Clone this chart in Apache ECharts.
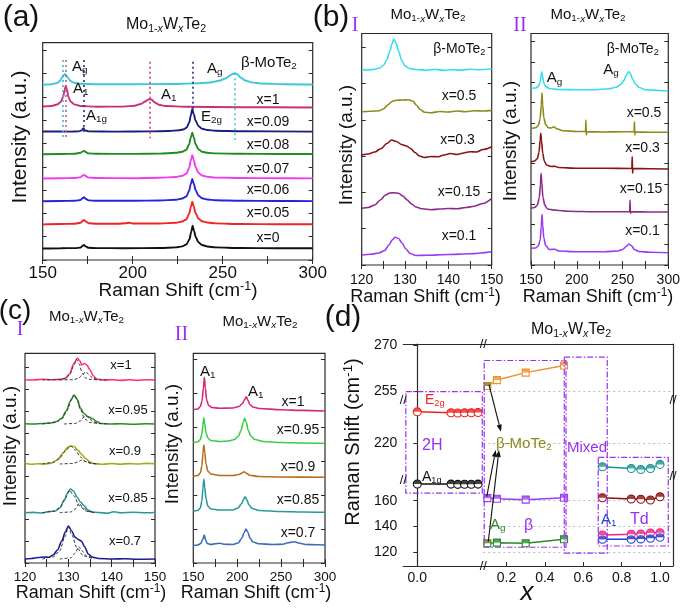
<!DOCTYPE html>
<html><head><meta charset="utf-8">
<script src="https://cdn.jsdelivr.net/npm/echarts@6/dist/echarts.min.js"></script>
<style>html,body{margin:0;padding:0;background:#fff}#c{width:685px;height:610px}</style>
</head><body><div id="c"></div><script>
// ================= DATA =================
// ---- Panel (a): Raman spectra, x = Raman shift (cm-1), y = intensity (a.u., stacked) ----
const a_beta = [[150,175.3],[155,175.8],[158,177],[159.5,179],[160.8,182.5],[161.7,185],[162.3,186],[163,185],[164,182],[165.5,179],[167.5,177.2],[171,176.3],[180,175.8],[200,175.7],[220,176],[235,176.6],[243,177.5],[248,179.2],[251.5,181.5],[254,184.5],[255.8,186.3],[256.8,186.7],[258,185.8],[260,182.5],[262.5,179.5],[266,177.6],[272,176.5],[285,175.8],[300,175.5]];
const a_x1 = [[150,153.5],[155,154],[158,155.5],[160,158],[161.3,163],[162.2,170],[162.8,174.2],[163.4,171],[164.3,163],[165.5,158.5],[167.5,155.6],[171,154],[180,153.3],[195,153.4],[201,154.3],[204.5,156],[207,158.5],[208.6,160.4],[209.6,161],[210.6,160.2],[212.3,157.5],[214.5,155.3],[218,154],[230,153.2],[260,152.8],[300,152.5]];
const a_x009 = [[150,128.5],[165,128.4],[170,128.6],[171.5,129.4],[172.6,131.7],[173.6,129.5],[175.5,128.6],[190,128.4],[210,128.6],[220,129],[226,129.8],[228.5,130.7],[230,132.5],[231.4,137.5],[232.3,144.5],[233.1,151],[233.9,146],[234.9,139.5],[236.5,134],[238.5,131.3],[241.5,130],[246,129.2],[260,128.7],[300,128.4]];
const a_x008 = [[150,105.8],[160,106],[168,106.3],[171,107.2],[172.3,108.6],[173,109],[173.8,108],[175.5,106.6],[180,106.2],[200,106.1],[215,106.4],[224,107.2],[227.5,108.3],[229.8,110.3],[231.3,115.5],[232.3,122.5],[233.1,127.3],[233.9,122.8],[234.9,116],[236.5,110.8],[238.5,108.3],[241.5,107.2],[246,106.6],[260,106.2],[280,106],[300,106]];
const a_x007 = [[150,81.5],[160,81.7],[168,82],[171,82.8],[172.3,84.5],[173,85],[173.8,84],[175.5,82.4],[180,82],[200,81.8],[215,82.2],[224,83],[227.5,84.2],[229.8,86.3],[231.3,92],[232.3,99.5],[233.1,104.7],[233.9,100],[234.9,93],[236.5,87.3],[238.5,84.5],[241.5,83.2],[246,82.4],[260,82],[280,81.8],[300,81.6]];
const a_x006 = [[150,58.8],[160,59],[168,59.2],[171,60],[172.3,62],[173,62.7],[173.8,61.3],[175.5,59.6],[180,59.2],[200,59.2],[215,59.5],[224,60.3],[227.5,61.5],[229.8,63.5],[231.3,69],[232.3,76],[233.1,81],[233.9,76.5],[234.9,70],[236.5,64.5],[238.5,61.8],[241.5,60.5],[246,59.7],[260,59.2],[280,59],[300,58.9]];
const a_x005 = [[150,35.6],[160,36],[168,36.3],[171,37.2],[172.3,39.2],[173,40],[173.8,38.6],[175.5,36.8],[180,36.2],[192,36.2],[196,36.8],[198,37.2],[200,36.5],[215,36.5],[224,37.3],[227.5,38.5],[229.8,40.5],[231.3,46],[232.3,53],[233.1,58.3],[233.9,53.5],[234.9,47],[236.5,41.5],[238.5,38.8],[241.5,37.5],[246,36.6],[260,36],[280,35.8],[300,35.7]];
const a_x0 = [[150,11.5],[160,11.8],[168,11.9],[171,12.4],[172.3,14.2],[173,15],[173.8,13.6],[175.5,12.2],[180,11.9],[195,11.8],[215,12],[224,12.6],[227.5,13.6],[229.8,15.5],[231.5,20.5],[232.5,28],[233.3,34.3],[234.1,29],[235,23],[236.5,17.8],[238.5,15],[241.5,13.5],[246,12.6],[260,12],[280,11.8],[300,11.7]];
const aLabels = ['x=1','x=0.09','x=0.08','x=0.07','x=0.06','x=0.05','x=0'];
// dotted mode-position guides in (a): x, top, bottom (a.u.)
const aRefX = [161.4, 163.0, 172.6, 209.6, 233.1, 256.8];
const aRefTop = [200, 200, 200, 198.3, 198.3, 186.7];
const aRefBot = [123, 123, 128, 121.7, 150, 120];

// ---- Panel (b) I: 120-150 cm-1 ----
const bI_beta = [[120,195.5],[121.5,195],[123,195.8],[124.2,197],[125,199.5],[125.8,205],[126.5,214],[127,221],[127.4,226],[127.9,222],[128.5,214],[129.2,205],[130,199],[131,196.5],[132.5,195.5],[135,194.8],[137,195.6],[139,194.6],[141,195.3],[143,194.9],[145,195.8],[147,195.2],[150,196]];
const bI_x05 = [[120,153.3],[122,153.8],[124,154.2],[125,156],[126,160],[127,163.5],[128,164.8],[129.5,165],[130.8,165.2],[131.8,164],[132.6,160],[133.5,155.5],[134.5,152.8],[136,152.3],[138,153.5],[140,153],[142,154],[144,153.3],[146,154.2],[148,154],[150,154.6]];
const bI_x03 = [[120,110],[121.5,111],[123,113],[124.5,116.5],[125.8,121.5],[126.9,125],[128,123.5],[129.2,120.5],[130.3,119],[131.3,116.5],[132.3,112.5],[133.3,109],[134.5,107.5],[136,108.5],[137.5,108.2],[139,110],[140.5,111.5],[142,110.5],[143.5,112],[145,113.3],[146.5,113],[148,115.5],[150,118.3]];
const bI_x015 = [[120,56.7],[121.5,57.5],[123,60],[124.3,65],[125.5,70],[126.5,72],[127.5,72.3],[128.5,71.8],[129.5,69],[130.5,65],[131.5,61],[132.5,58],[134,56.2],[136,55.3],[138,56],[140,56.5],[142,56.2],[144,57.5],[146,58.8],[148,61.5],[150,66.7]];
const bI_x01 = [[120,10],[122,10.8],[124,12],[125.3,14.5],[126.3,20],[127,25],[127.7,27.7],[128.5,26.5],[129.3,22],[130.2,16],[131.2,11.5],[132.5,9.5],[135,9.8],[140,10.5],[145,11.3],[150,13.3]];
// ---- Panel (b) II: 150-300 cm-1 ----
const bII_beta = [[150,176.7],[155,177],[158,178.5],[160,183],[161,189],[161.7,193.3],[162.5,189],[164,182],[166,178.5],[170,176.5],[180,175.5],[200,175.2],[220,175.3],[235,176.2],[243,177.8],[248,180.5],[251.5,184.5],[254,189.5],[256,192.8],[257,193.3],[258.5,191.5],[261,186],[264,181],[268,177.5],[275,175.3],[290,174.5],[300,174]];
const bII_x05 = [[150,136.5],[155,137.2],[158,139.5],[160,146],[161.2,160],[162,172.3],[162.8,160],[164,147],[166,140.5],[169,137.3],[172,137],[175,138.3],[178,136.3],[185,134.2],[200,133.5],[209.6,133.5],[210,145],[210.4,130],[210.8,133.3],[230,133],[250,133.2],[262.6,133.3],[263,143.3],[263.4,130],[263.8,133],[280,132.8],[300,132.7]];
const bII_x03 = [[150,103],[154,104],[157,106.5],[158.8,113],[160,125],[160.7,131.7],[161.5,124],[162.8,112],[164.5,104],[167,100],[172,98.5],[176,98.8],[180,97.5],[200,96.8],[230,96.7],[260.2,96.5],[260.6,108.3],[261,91.7],[261.4,96.5],[280,96.2],[300,96]];
const bII_x015 = [[150,56.7],[154,57.5],[157,60],[159,67],[160.3,80],[161,91.7],[161.8,82],[163,68],[165,60],[168,56],[175,55],[178,54.8],[190,53.8],[220,53.3],[257.8,53.3],[258.2,65],[258.6,51.7],[259,53.3],[280,53],[300,53]];
const bII_x01 = [[150,16.7],[155,17],[158,19],[160,25],[161.2,38],[162,50.7],[162.8,40],[164,27],[166,19.5],[170,15.5],[176,15.8],[180,14],[200,13.3],[230,13.3],[245,14],[250,15.5],[254,18.5],[257,21],[259.5,19.5],[263,15.5],[268,13.5],[280,12.8],[300,12.3]];
const bLabels = ['x=0.5','x=0.3','x=0.15','x=0.1'];

// ---- Panel (c) I: 120-150 cm-1 with two-peak fits ----
const cI_x1 = [[120,183.3],[122,183],[124,183.8],[126,183.2],[128,183.6],[129.2,184.5],[130.3,189],[131.2,199],[132.1,204.7],[132.7,202],[133.1,198],[133.7,199.5],[134.3,198],[135,193],[135.8,187],[136.5,184],[138,183],[140,183.3],[142,182.6],[144,183.2],[146,182.8],[148,183.3],[150,183]];
const cI_x1_f1 = [[124,183],[128,183.5],[129.5,185],[130.5,190],[131.3,198],[131.9,203.5],[132.5,199],[133.2,190],[134,185],[135,183.6],[137,183]];
const cI_x1_f2 = [[128,183],[131,183.3],[132.3,184.5],[133.2,188],[134,191.3],[134.8,188],[135.7,184.5],[137,183.3],[139,183]];
const cI_x095 = [[120,139.3],[122,139],[124,139.5],[126,140],[127.3,141.5],[128.5,145],[129.5,152],[130.5,162],[131.3,168],[132,164],[132.8,155],[133.6,149.5],[134.5,146.5],[135.5,144.5],[136.5,141.5],[137.5,139.5],[140,139],[142,139.3],[145,138.8],[148,139.2],[150,139]];
const cI_x095_f1 = [[124,139],[127,140.5],[128.5,144],[129.8,153],[130.7,164],[131.3,168],[132,164],[132.8,153],[133.8,144],[135,140.5],[137,139.2]];
const cI_x095_f2 = [[129,139],[131.5,139.5],[132.8,142],[133.5,145.5],[134.1,147],[134.8,145],[135.6,141.5],[137,139.5],[139,139]];
const cI_x09 = [[120,99.5],[121.5,98.8],[123,99.3],[124.5,99],[126,99.8],[127.5,103],[128.8,110],[129.8,115.5],[130.5,117],[131.3,116.5],[132.2,113],[133,109],[134,104.5],[135,101],[136,99.3],[138,98.7],[140,99.5],[142,98.8],[144,99.4],[146,99],[148,99.6],[150,99.2]];
const cI_x09_f1 = [[124,99],[126.5,100.5],[128,105],[129.3,112],[130.5,117],[131.6,113],[132.8,106],[134,101.5],[135.5,99.5],[137,99]];
const cI_x09_f2 = [[128,99],[131,99.5],[132.2,101],[133.1,103],[134,101.3],[135.2,99.6],[137,99]];
const cI_x085 = [[120,50.3],[122,50.6],[124,50],[125.5,51.5],[127,52],[128,55],[129,62],[129.8,70],[130.5,74],[131.2,72],[132,66],[132.8,61],[133.6,57.5],[134.5,53],[135.5,51],[137,50.5],[139,49.8],[140.5,51.3],[142,50.3],[145,50.8],[148,50.2],[150,50.5]];
const cI_x085_f1 = [[124,50.3],[126.5,51.5],[128,55],[129.3,65],[130.3,72.5],[131.3,67],[132.5,57.5],[134,52],[136,50.4]];
const cI_x085_f2 = [[128,50.3],[130.5,51],[131.6,54],[132.5,59.7],[133.4,55],[134.5,51.5],[136,50.3]];
const cI_x07 = [[120,4],[121.5,4.5],[123,5.5],[124.5,6],[125.5,5.8],[126.5,8],[127.5,13],[128.5,22],[129.3,31],[130,37],[130.8,32],[131.5,26],[132.3,23.5],[133,22],[133.8,16],[134.6,9],[135.5,6],[137,4.5],[140,4],[143,4.3],[146,3.8],[150,4]];
const cI_x07_f1 = [[124,4],[126.5,6],[128,12],[129.2,26],[130,36],[130.8,28],[132,15],[133.5,7],[135.5,4.5]];
const cI_x07_f2 = [[128,4],[130.5,5],[131.6,10],[132.4,16.3],[133.2,12],[134.2,7],[136,4.2]];
// ---- Panel (c) II: 150-300 cm-1 ----
const cII_x1 = [[150,153.5],[155,154],[158,156.5],[160,162],[161.5,175],[162.6,185.7],[163.7,175],[165.2,163],[167.5,157.5],[171,155.5],[180,154.7],[195,155],[202,156.5],[206,159.5],[208.5,163.5],[210.4,166.3],[212,163],[214.5,158.5],[218,156],[225,154.5],[250,153.2],[275,152.6],[300,152]];
const cII_x095 = [[150,120.5],[155,121],[158,123.5],[159.8,129],[161,138],[162,145.3],[163,139],[164.5,130],[166.5,125],[170,122.5],[180,121.5],[190,122],[197,123.5],[201.5,127],[204.5,133],[206.8,140],[208.5,144.7],[210.2,141],[212.5,133],[215.5,127],[220,123.5],[230,121.5],[250,120.5],[275,120],[300,119.7]];
const cII_x09 = [[150,86.8],[155,87.5],[158,90],[159.8,97],[161,110],[162,118],[163,111],[164.5,99],[166.5,92],[170,89],[180,87.5],[195,87.5],[202,88.5],[206,90.3],[208,91.3],[210.5,89.8],[214,87.8],[225,86.5],[250,86],[300,85.7]];
const cII_x085 = [[150,52],[155,52.5],[158,55],[159.8,62],[161,75],[162,83.7],[163,76],[164.5,64],[166.5,57],[170,54],[180,53],[195,53],[201,55],[205,59.5],[207.5,64],[209,66.3],[210.8,63.5],[213.5,58],[217,54.5],[225,52.5],[250,51.5],[275,51],[300,50.7]];
const cII_x07 = [[150,17.5],[155,18],[158.5,19.5],[160.5,23],[162.5,28],[164,23],[166,19.5],[170,18.5],[175,19.2],[180,19.7],[185,18.8],[195,18.5],[201,20],[205,24.5],[208,30.5],[210,34],[212,31],[214.5,25],[218,21],[225,19.2],[240,18.5],[252,18.8],[258,20.3],[264.5,21.3],[270,20],[278,18.5],[290,18.2],[300,18]];
const cLabels = ['x=1','x=0.95','x=0.9','x=0.85','x=0.7'];

// ---- Panel (d): peak positions vs x ----
const d_x2H = [0, 0.05, 0.06, 0.07, 0.08, 0.09];
const d_E2g = [232.9, 232.5, 232.4, 232.5, 232.5, 232.6];
const d_A1g = [173.0, 172.9, 172.7, 172.8, 172.8, 172.9];
const d_xBeta = [0.1, 0.15, 0.3, 0.5];
const d_betaHigh = [256.8, 258.7, 261.1, 263.4];
const d_betaMid = [162.0, 161.5, 160.8, 162.3];
const d_betaLow = [126.8, 127.3, 126.8, 129.9];
const d_xTd = [0.7, 0.85, 0.9, 0.95, 1.0];
const d_TdHigh = [210.0, 209.3, 208.9, 209.3, 211.0];
const d_TdMid = [162.3, 161.3, 161.1, 160.5, 163.1];
const d_TdLowA = [133.3, 133.8, 134.0, 134.8, 135.0];
const d_TdLowB = [129.9, 129.9, 130.2, 130.7, 131.5];
const dYTicksBottom = [120, 140, 160], dYTicksMid = [220], dYTicksTop = [255, 270];
const dXTicksLeft = [0], dXTicksRight = [0.2, 0.4, 0.6, 0.8, 1.0];

// ================= CHART =================
const FONT = '"Liberation Sans", Arial, Helvetica, sans-serif';
const SERIF = '"Liberation Serif", "Times New Roman", serif';
const PURPLE = '#9a30f0';
const chart = echarts.init(document.getElementById('c'), null, {renderer: 'canvas', width: 685, height: 610});
const grids = [], xAxis = [], yAxis = [], series = [];
const tickStyle = {show: true, inside: true, length: 4, lineStyle: {color: '#2a2a2a', width: 1}};

function specPanel(left, top, w, h, xmin, xmax, xint, every, ymax, yint, fs, margin) {
  const gi = grids.length;
  grids.push({left, top, width: w, height: h, show: true, borderColor: '#2a2a2a', borderWidth: 1.2, backgroundColor: 'transparent'});
  const xi = xAxis.length;
  xAxis.push({gridIndex: gi, type: 'value', min: xmin, max: xmax, interval: xint, position: 'bottom',
    axisLine: {show: false}, axisTick: tickStyle, splitLine: {show: false},
    axisLabel: {fontFamily: FONT, fontSize: fs, color: '#111', margin,
      formatter: v => (Math.abs(v % every) < 1e-6 ? String(v) : '')}});
  xAxis.push({gridIndex: gi, type: 'value', min: xmin, max: xmax, interval: xint, position: 'top',
    axisLine: {show: false}, axisTick: tickStyle, axisLabel: {show: false}, splitLine: {show: false}});
  const yi = yAxis.length;
  yAxis.push({gridIndex: gi, type: 'value', min: 0, max: ymax, interval: yint, position: 'left',
    axisLine: {show: false}, axisTick: tickStyle, axisLabel: {show: false}, splitLine: {show: false}});
  yAxis.push({gridIndex: gi, type: 'value', min: 0, max: ymax, interval: yint, position: 'right',
    axisLine: {show: false}, axisTick: tickStyle, axisLabel: {show: false}, splitLine: {show: false}});
  return {gi, xi, yi};
}
function addSpec(p, data, color, w) {
  const s = {type: 'line', xAxisIndex: p.xi, yAxisIndex: p.yi, data, symbol: 'none', smooth: 0.3,
    smoothMonotone: 'x', lineStyle: {color, width: w || 1.6}, itemStyle: {color}, silent: true, z: 3};
  series.push(s); return s;
}
function addFit(p, data) {
  series.push({type: 'line', xAxisIndex: p.xi, yAxisIndex: p.yi, data, symbol: 'none', smooth: 0.3,
    smoothMonotone: 'x', lineStyle: {color: '#333', width: 1, type: [3, 2]}, silent: true, z: 4});
}

// Panel (a)
const PA = specPanel(42.7, 42.7, 270, 217.3, 150, 300, 25, 50, 217.3, 23.3, 17, 5);
addSpec(PA, a_beta, '#3cc8d8', 1.9);
addSpec(PA, a_x1, '#c8307a', 1.9);
addSpec(PA, a_x009, '#1c1c7c', 1.9);
addSpec(PA, a_x008, '#1e8c1e', 1.9);
addSpec(PA, a_x007, '#f03cf0', 1.9);
addSpec(PA, a_x006, '#2424dc', 1.9);
addSpec(PA, a_x005, '#f02424', 1.9);
const aBlack = addSpec(PA, a_x0, '#111', 1.9);
const aRefColors = ['#5fa8cc', '#a8679e', '#2a2a8a', '#d03a8a', '#2a2a8a', '#40c8d8'];
aBlack.markLine = {silent: true, symbol: ['none', 'none'], label: {show: false}, animation: false,
  data: aRefX.map((x, i) => [{coord: [x, aRefTop[i]], lineStyle: {color: aRefColors[i], type: [2, 3], width: 1.6}},
                              {coord: [x, aRefBot[i]]}])};

// Panel (b)
const PB1 = specPanel(361.7, 33.5, 130, 231.5, 120, 150, 5, 10, 231.5, 36.3, 14, 8);
const PB2 = specPanel(531, 33.5, 137.3, 231.5, 150, 300, 25, 50, 231.5, 20.3, 14, 8);
const bColors = ['#38dcec', '#8c8c1c', '#8a1414', '#8c2a8c', '#9a3cf0'];
[bI_beta, bI_x05, bI_x03, bI_x015, bI_x01].forEach((d, i) => addSpec(PB1, d, bColors[i], 1.6));
[bII_beta, bII_x05, bII_x03, bII_x015, bII_x01].forEach((d, i) => addSpec(PB2, d, bColors[i], 1.6));

// Panel (c)
const PC1 = specPanel(25, 353.3, 130, 209.7, 120, 150, 5, 10, 209.7, 21.7, 13.5, 7);
const PC2 = specPanel(193.3, 353.3, 131.7, 209.7, 150, 300, 25, 50, 209.7, 34, 13.5, 7);
const c1Colors = ['#ff2a84', '#2a8c2a', '#a8a820', '#2a9696', '#1c1c96'];
[cI_x1, cI_x095, cI_x09, cI_x085, cI_x07].forEach((d, i) => addSpec(PC1, d, c1Colors[i], 1.6));
[cI_x1_f1, cI_x1_f2, cI_x095_f1, cI_x095_f2, cI_x09_f1, cI_x09_f2, cI_x085_f1, cI_x085_f2, cI_x07_f1, cI_x07_f2].forEach(d => addFit(PC1, d));
const c2Colors = ['#d42a7c', '#3ccc4a', '#b86e1a', '#2a9a9a', '#3c6cb4'];
[cII_x1, cII_x095, cII_x09, cII_x085, cII_x07].forEach((d, i) => addSpec(PC2, d, c2Colors[i], 1.6));

// Panel (d): broken axes -> 6 sub-grids
const DL = 403.3, DM = 483.3, DR = 673, DT = 344, DB1 = 400, DB2 = 480, DBOT = 566;
const dYR = {bot: [109.1, 176.1], mid: [204.5, 237.8], top: [252.3, 270.3]};
const dXR = {left: [-0.0207, 0.0978], right: [0.0791, 1.0677]};
const D = {};
function dGrid(key, left, top, w, h, xr, yr, xpos, xticks, yside, yticks) {
  const gi = grids.length;
  grids.push({left, top, width: w, height: h, show: false});
  const xi = xAxis.length;
  const xa = {gridIndex: gi, type: 'value', min: xr[0], max: xr[1], position: xpos || 'bottom', splitLine: {show: false},
    axisLine: {show: !!xpos, lineStyle: {color: '#2a2a2a', width: 1.2}},
    axisTick: {show: !!xticks, inside: true, length: 4, customValues: xticks || [], lineStyle: {color: '#2a2a2a'}},
    axisLabel: {show: !!xticks, customValues: xticks || [], fontFamily: FONT, fontSize: 14, color: '#111', margin: 5,
      formatter: v => Number(v).toFixed(1)}};
  if (!xpos) xa.show = false;
  xAxis.push(xa);
  const yi = yAxis.length;
  yAxis.push({gridIndex: gi, type: 'value', min: yr[0], max: yr[1], position: yside, splitLine: {show: false},
    axisLine: {show: true, lineStyle: {color: '#2a2a2a', width: 1.2}},
    axisTick: {show: !!yticks, inside: false, length: 4, customValues: yticks || [], lineStyle: {color: '#2a2a2a'}},
    axisLabel: {show: !!yticks, customValues: yticks || [], fontFamily: FONT, fontSize: 14, color: '#111', margin: 6}});
  D[key] = {gi, xi, yi};
}
dGrid('BL', DL, DB2, DM - DL, DBOT - DB2, dXR.left, dYR.bot, 'bottom', dXTicksLeft, 'left', dYTicksBottom);
dGrid('ML', DL, DB1, DM - DL, DB2 - DB1, dXR.left, dYR.mid, null, null, 'left', dYTicksMid);
dGrid('TL', DL, DT, DM - DL, DB1 - DT, dXR.left, dYR.top, 'top', null, 'left', dYTicksTop);
dGrid('BR', DM, DB2, DR - DM, DBOT - DB2, dXR.right, dYR.bot, 'bottom', dXTicksRight, 'right', null);
dGrid('MR', DM, DB1, DR - DM, DB2 - DB1, dXR.right, dYR.mid, null, null, 'right', null);
dGrid('TR', DM, DT, DR - DM, DB1 - DT, dXR.right, dYR.top, 'top', null, 'right', null);

const HALF_DISC = 'path://M0,10 A10,10 0 0 1 20,10 Z';
function dLine(key, xs, ys, color, shape, firstColor, gridLines) {
  const p = D[key];
  const pts = xs.map((x, i) => [x, ys[i]]);
  const isRect = shape === 'rect';
  const sz = isRect ? 7 : 8;
  const s = {type: 'line', xAxisIndex: p.xi, yAxisIndex: p.yi, data: pts, symbol: isRect ? 'rect' : 'circle',
    symbolSize: sz, showAllSymbol: true, lineStyle: {color, width: 1.5},
    itemStyle: {color: '#fff', borderColor: color, borderWidth: 1.1}, silent: true, z: 5};
  if (gridLines) s.markLine = {silent: true, symbol: ['none', 'none'], label: {show: false},
    lineStyle: {type: [2, 3], color: '#bdbdbd', width: 1}, data: gridLines.map(v => ({yAxis: v})), z: 1};
  series.push(s);
  series.push({type: 'scatter', xAxisIndex: p.xi, yAxisIndex: p.yi,
    data: pts.map((pt, i) => (i === 0 && firstColor) ? {value: pt, itemStyle: {color: firstColor}} : pt),
    symbol: isRect ? 'rect' : HALF_DISC, symbolSize: [sz, sz / 2], symbolOffset: [0, -sz / 4],
    itemStyle: {color}, silent: true, z: 6});
}
dLine('ML', d_x2H, d_E2g, '#ee2222', 'circle');
dLine('BL', d_x2H, d_A1g, '#111111', 'circle');
dLine('TR', d_xBeta, d_betaHigh, '#f0922c', 'rect', '#7a7a1a', [255]);
dLine('BR', d_xBeta, d_betaMid, '#9a3cf0', 'rect', null, [120, 140, 160]);
dLine('BR', d_xBeta, d_betaLow, '#2a8a2a', 'rect', '#7a7a1a');
dLine('MR', d_xTd, d_TdHigh, '#1a9494', 'circle', null, [220]);
dLine('BR', d_xTd, d_TdMid, '#8b1010', 'circle');
dLine('BR', d_xTd, d_TdLowB, '#2040d0', 'circle');
dLine('BR', d_xTd, d_TdLowA, '#ee2288', 'circle');

chart.setOption({animation: false, backgroundColor: '#fff', grid: grids, xAxis, yAxis, series});

// ================= TEXT & DECORATIONS =================
function rich(fs, color) {
  const sub = +(fs * 0.66).toFixed(1), off = +(fs * 0.5).toFixed(1);
  return {
    n: {fontSize: fs, fontFamily: FONT, fill: color},
    s: {fontSize: sub, fontFamily: FONT, fill: color, padding: [off, 0, 0, 0]},
    si: {fontSize: sub, fontFamily: FONT, fill: color, fontStyle: 'italic', padding: [off, 0, 0, 0]},
    p: {fontSize: sub, fontFamily: FONT, fill: color, padding: [0, 0, off, 0]}
  };
}
function T(x, y, text, fs, o) {
  o = o || {};
  const color = o.color || '#111';
  return {type: 'text', x, y, rotation: o.rot || 0, z: 100, silent: true,
    style: {text, fontSize: fs, fontFamily: o.family || FONT, fill: color, fontStyle: o.italic ? 'italic' : 'normal',
      align: o.align || 'left', verticalAlign: 'middle', rich: rich(fs, color)}};
}
const TITLE = '{n|Mo}{s|1-}{si|x}{n|W}{si|x}{n|Te}{s|2}';
const RAMAN = '{n|Raman Shift (cm}{p|-1}{n|)}';
const INT = 'Intensity (a.u.)';
const R90 = Math.PI / 2;
const G = [];
// (a)
G.push(T(21, 18, '(a)', 30, {align: 'center'}));
G.push(T(166, 25, TITLE, 16, {align: 'center'}));
G.push(T(20, 137, INT, 21, {align: 'center', rot: R90}));
G.push(T(178, 291, RAMAN, 19, {align: 'center'}));
G.push(T(72, 67, '{n|A}{s|g}', 15));
G.push(T(73, 89, '{n|A}{s|1}', 15));
G.push(T(86, 116, '{n|A}{s|1g}', 15));
G.push(T(161, 95, '{n|A}{s|1}', 15));
G.push(T(201, 117, '{n|E}{s|2g}', 15));
G.push(T(207, 69, '{n|A}{s|g}', 15));
G.push(T(241, 63, '{n|β-MoTe}{s|2}', 15));
const aLabY = [100, 121.7, 145, 169, 190, 213.3, 238.3];
aLabels.forEach((t, i) => G.push(T(268, aLabY[i], t, 14, {align: 'center'})));
// (b)
G.push(T(331, 18, '(b)', 30, {align: 'center'}));
G.push(T(355, 26, 'I', 20, {align: 'center', family: SERIF, color: PURPLE}));
G.push(T(428, 15, TITLE, 15, {align: 'center'}));
G.push(T(520, 26, 'II', 20, {align: 'center', family: SERIF, color: PURPLE}));
G.push(T(588, 15, TITLE, 15, {align: 'center'}));
G.push(T(346.5, 145, INT, 19, {align: 'center', rot: R90}));
G.push(T(510.5, 141, INT, 19, {align: 'center', rot: R90}));
G.push(T(425.5, 297, RAMAN, 18, {align: 'center'}));
G.push(T(598, 297, RAMAN, 18, {align: 'center'}));
G.push(T(433.3, 49.3, '{n|β-MoTe}{s|2}', 14));
const bILabY = [96, 140, 191.7, 236], bILabX = [459, 457.5, 459, 459];
bLabels.forEach((t, i) => G.push(T(bILabX[i], bILabY[i], t, 14, {align: 'center'})));
G.push(T(606.7, 49.3, '{n|β-MoTe}{s|2}', 14));
G.push(T(546.7, 78.3, '{n|A}{s|g}', 15));
G.push(T(603.3, 70, '{n|A}{s|g}', 15));
const bIILabY = [112.7, 148.3, 189.3, 230.7], bIILabX = [644, 642.5, 641, 642.5];
bLabels.forEach((t, i) => G.push(T(bIILabX[i], bIILabY[i], t, 14, {align: 'center'})));
// (c)
G.push(T(15, 311, '(c)', 28, {align: 'center'}));
G.push(T(20, 330, 'I', 20, {align: 'center', family: SERIF, color: PURPLE}));
G.push(T(86.5, 316.7, TITLE, 15, {align: 'center'}));
G.push(T(181.5, 335, 'II', 20, {align: 'center', family: SERIF, color: PURPLE}));
G.push(T(260, 321.7, TITLE, 15, {align: 'center'}));
G.push(T(11, 446, INT, 19, {align: 'center', rot: R90}));
G.push(T(172.5, 444, INT, 19, {align: 'center', rot: R90}));
G.push(T(91, 593, RAMAN, 18, {align: 'center'}));
G.push(T(256, 593, RAMAN, 18, {align: 'center'}));
const cILabY = [365, 410, 451.7, 498.3, 541.7], cILabX = [121, 128, 125, 128, 125];
cLabels.forEach((t, i) => G.push(T(cILabX[i], cILabY[i], t, 13, {align: 'center'})));
G.push(T(200, 371.7, '{n|A}{s|1}', 15));
G.push(T(248, 391.7, '{n|A}{s|1}', 15));
const cIILabY = [401.7, 430, 466.7, 500, 532.7], cIILabX = [293, 298, 298, 298, 298];
cLabels.forEach((t, i) => G.push(T(cIILabX[i], cIILabY[i], t, 14, {align: 'center'})));
// (d)
G.push(T(343, 318, '(d)', 30, {align: 'center'}));
G.push(T(571, 330, TITLE, 16, {align: 'center'}));
G.push(T(353.5, 442, RAMAN, 20, {align: 'center', rot: R90}));
G.push(T(527, 593, 'x', 26, {align: 'center', italic: true}));
G.push(T(425, 400, '{n|E}{s|2g}', 14, {color: '#ee2222'}));
G.push(T(422, 445.7, '2H', 16, {color: PURPLE}));
G.push(T(422, 476.7, '{n|A}{s|1g}', 14));
G.push(T(496, 444, '{n|β-MoTe}{s|2}', 15, {color: '#8a8a1a'}));
G.push(T(567, 448.3, 'Mixed', 15, {color: PURPLE}));
G.push(T(601, 520, '{n|A}{s|1}', 15, {color: '#2040d0'}));
G.push(T(630, 520, 'Td', 16, {color: PURPLE}));
G.push(T(490, 525, '{n|A}{s|g}', 15, {color: '#2a8a2a'}));
G.push(T(524, 526, 'β', 16, {color: PURPLE}));
// axis break marks
[[DL, DB1], [DL, DB2], [DR, DB1], [DR, DB2 - 4], [DM, DBOT], [DM, DT]].forEach(p =>
  G.push(T(p[0], p[1], '//', 13, {align: 'center'})));

function px(key, x, y) { const p = D[key]; return chart.convertToPixel({xAxisIndex: p.xi, yAxisIndex: p.yi}, [x, y]); }
function box(kTop, kBot, x0, x1, yTop, yBot) {
  const a = px(kTop, x0, yTop), b = px(kBot, x1, yBot);
  return {type: 'rect', z: 50, silent: true, shape: {x: a[0], y: a[1], width: b[0] - a[0], height: b[1] - a[1]},
    style: {fill: 'none', stroke: PURPLE, lineWidth: 1.2, lineDash: [6, 2, 1.5, 2]}};
}
G.push(box('TL', 'BL', -0.017, 0.0963, 255, 165.8));
G.push(box('TR', 'BR', 0.084, 0.510, 265, 123.7));
G.push(box('TR', 'BR', 0.501, 0.725, 266.1, 119.2));
G.push(box('MR', 'BR', 0.678, 1.043, 213.9, 124.7));
function arrow(p0, p1) {
  const dx = p1[0] - p0[0], dy = p1[1] - p0[1], L = Math.hypot(dx, dy), ux = dx / L, uy = dy / L;
  const hl = 7, hw = 2.6, bx = p1[0] - ux * hl, by = p1[1] - uy * hl;
  G.push({type: 'line', z: 60, silent: true, shape: {x1: p0[0], y1: p0[1], x2: bx, y2: by}, style: {stroke: '#111', lineWidth: 1.1}});
  G.push({type: 'polygon', z: 60, silent: true, shape: {points: [[p1[0], p1[1]], [bx - uy * hw, by + ux * hw], [bx + uy * hw, by - ux * hw]]}, style: {fill: '#111'}});
}
arrow(px('TR', 0.109, 257.2), px('MR', 0.171, 224.6));
arrow(px('BR', 0.097, 163.1), px('MR', 0.144, 217));
arrow(px('BR', 0.105, 128), px('MR', 0.161, 217));

chart.setOption({graphic: G});
</script></body></html>
